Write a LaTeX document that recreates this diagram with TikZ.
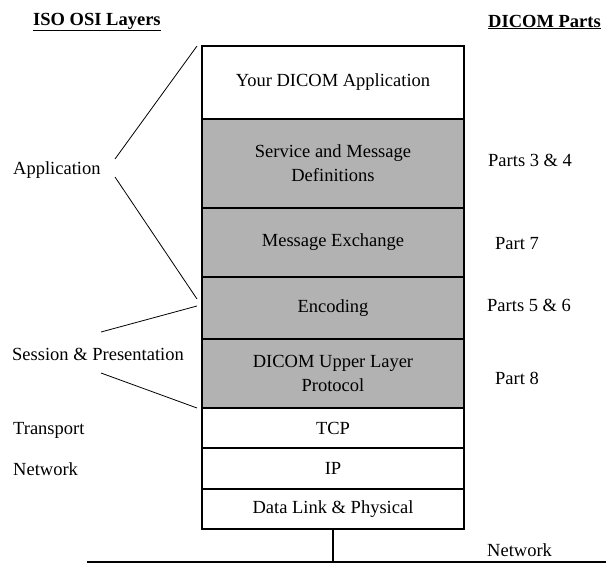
\documentclass[tikz,border=0pt]{standalone}
\usepackage{fontspec}
\setmainfont{Liberation Serif}
\usetikzlibrary{positioning}
\tikzset{
  layer/.style = {draw=black, line width=1.3pt, minimum width=262pt,
    inner sep=0pt, outer sep=0pt, align=center,
    font=\fontsize{18.5}{24}\selectfont},
  wlayer/.style = {layer, fill=white},
  glayer/.style = {layer, fill=black!30},
  lbl/.style = {anchor=west, inner sep=0pt,
    font=\fontsize{18.5}{24}\selectfont},
  hdr/.style = {lbl, font=\fontsize{18.5}{24}\selectfont\bfseries},
  brace/.style = {line width=0.8pt}
}
\begin{document}
\begin{tikzpicture}[x=1pt,y=-1pt]
  \useasboundingbox (0,0) rectangle (606,563);
  % the stack
  \node[wlayer, minimum height=73pt, anchor=north] (app) at (333,46) {Your DICOM Application};
  \node[glayer, minimum height=89pt, below=0pt of app] (svc) {Service and Message\\Definitions};
  \node[glayer, minimum height=69pt, below=0pt of svc] (msg) {Message Exchange};
  \node[glayer, minimum height=62pt, below=0pt of msg] (enc) {Encoding};
  \node[glayer, minimum height=69pt, below=0pt of enc] (ulp) {DICOM Upper Layer\\Protocol};
  \node[wlayer, minimum height=40pt, below=0pt of ulp] (tcp) {TCP};
  \node[wlayer, minimum height=41pt, below=0pt of tcp] (ip) {IP};
  \node[wlayer, minimum height=40pt, below=0pt of ip] (dl) {Data Link \& Physical};
  % headers
  \node[hdr] (isohdr) at (33,22) {\underline{ISO OSI Layers}};
  \node[hdr] (dicomhdr) at (488,22) {\underline{DICOM Parts}};
  % OSI layers
  \node[lbl] (application) at (13,170) {Application};
  \node[lbl] (session) at (12,354) {Session \& Presentation};
  \node[lbl] (transport) at (13,430) {Transport};
  \node[lbl] (network) at (13,469) {Network};
  % DICOM parts
  \node[lbl] (p34) at (488,160) {Parts 3 \& 4};
  \node[lbl] (p7) at (495,244) {Part 7};
  \node[lbl] (p56) at (487,305) {Parts 5 \& 6};
  \node[lbl] (p8) at (495,378) {Part 8};
  % brackets
  \coordinate (appT) at (115,159);
  \coordinate (appB) at (115,177);
  \coordinate (sesT) at (101,332);
  \coordinate (sesB) at (101,373);
  \draw[brace] ([xshift=-5pt]app.north west) -- (appT);
  \draw[brace] (appB) -- ([xshift=-5pt,yshift=-22pt]enc.north west);
  \draw[brace] ([xshift=-5pt,yshift=-29pt]enc.north west) -- (sesT);
  \draw[brace] (sesB) -- ([xshift=-5pt]ulp.south west);
  % network
  \coordinate (netL) at (87,562);
  \coordinate (netR) at (606,562);
  \draw[line width=1.5pt] (netL) -- (netR);
  \draw[line width=2pt] (dl.south) -- (dl.south |- netL);
  \node[lbl] (netlbl) at (487,550) {Network};
\end{tikzpicture}
\end{document}
